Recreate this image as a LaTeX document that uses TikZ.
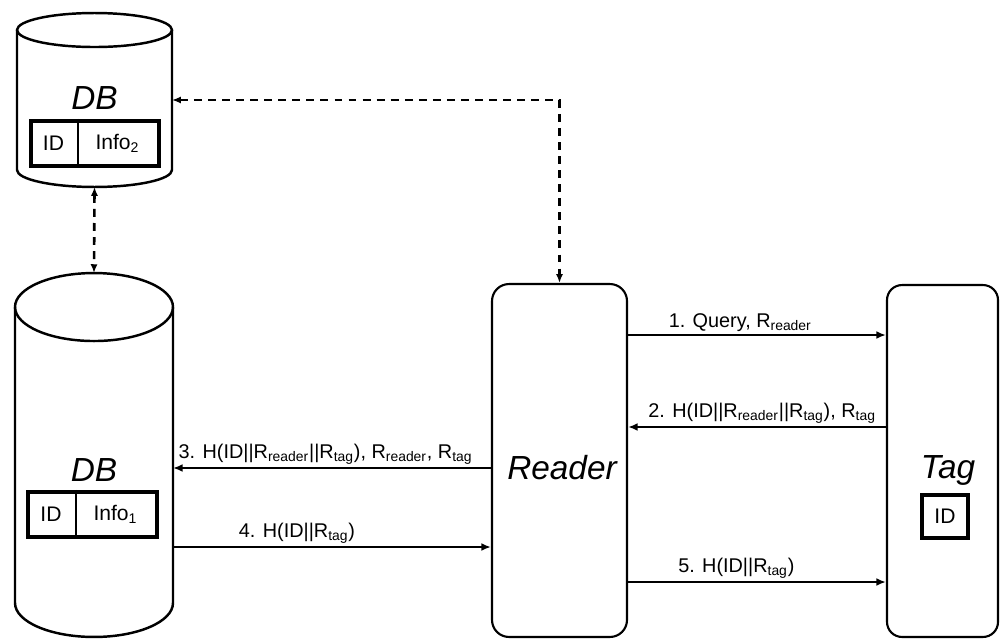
\documentclass[tikz,border=0pt]{standalone}
\usepackage{fontspec}
\setmainfont{Liberation Sans}
\usetikzlibrary{arrows.meta,positioning}

\tikzset{
  drum/.style={line width=1.4pt},
  unit/.style={draw, line width=1.2pt, rounded corners=0.34cm, inner sep=0pt},
  msg/.style={line width=1.3pt, -{Latex[length=5.5pt,width=4.5pt]}},
  link/.style={line width=1.5pt, dash pattern=on 4.5pt off 3.5pt,
               {Latex[length=5pt,width=4pt]}-{Latex[length=5pt,width=4pt]}},
  tbl/.style={draw, line width=2.3pt, inner sep=0pt},
  cell/.style={font=\fontsize{12}{14}\selectfont, inner sep=0pt},
  title/.style={font=\fontsize{19}{22}\selectfont\itshape, inner sep=0pt},
  lbl/.style={font=\fontsize{11.3}{13}\selectfont, above, inner sep=1.5pt},
  hold/.style={inner sep=0pt, outer sep=0pt},
}

% cylinder outline round a placeholder node: #1 node, #2 x radius, #3 y radius
\newcommand\dbdrum[3]{%
  \draw[drum] ([yshift=-#3]#1.north west) -- ([yshift=#3]#1.south west)
    arc[start angle=180, end angle=360, x radius=#2, y radius=#3]
    -- ([yshift=-#3]#1.north east);
  \draw[drum] ([yshift=-#3]#1.north) ellipse [x radius=#2, y radius=#3];}

\begin{document}
\begin{tikzpicture}[x=0.02cm,y=0.02cm]
\fill[white] (0,0) rectangle (1000,640);
\useasboundingbox (0,0) rectangle (1000,640);

% back-end databases
\node[hold, minimum width=3.1cm, minimum height=3.48cm] (db1) at (94.5,540) {};
\node[hold, minimum width=3.16cm, minimum height=7.28cm] (db2) at (94,185) {};
\dbdrum{db1}{1.55cm}{0.34cm}
\dbdrum{db2}{1.58cm}{0.68cm}

\node[title] (db1name) at (94.5,542) {DB};
\node[tbl, minimum width=2.56cm, minimum height=0.9cm] (db1tab) at (95,496.5) {};
\draw[line width=0.8pt] ([xshift=0.98cm]db1tab.north west) -- ([xshift=0.98cm]db1tab.south west);
\node[cell] (db1id) at ([xshift=0.49cm]db1tab.west) {ID};
\node[cell] (db1info) at ([xshift=1.77cm]db1tab.west) {Info\textsubscript{2}};

\node[title] (db2name) at (94,170) {DB};
\node[tbl, minimum width=2.58cm, minimum height=0.9cm] (db2tab) at (92.5,125.5) {};
\draw[line width=0.8pt] ([xshift=1.0cm]db2tab.north west) -- ([xshift=1.0cm]db2tab.south west);
\node[cell] (db2id) at ([xshift=0.5cm]db2tab.west) {ID};
\node[cell] (db2info) at ([xshift=1.79cm]db2tab.west) {Info\textsubscript{1}};

% reader and tag
\node[unit, minimum width=2.7cm, minimum height=7.06cm] (reader) at (559.5,179.5) {};
\node[title] (readername) at (562,172) {Reader};
\node[unit, rounded corners=0.3cm, minimum width=2.22cm, minimum height=7.04cm] (tag) at (942.5,179) {};
\node[title] (tagname) at (948,170) {Tag};
\node[tbl, cell, minimum width=0.92cm, minimum height=0.86cm] (tagid) at (945,123.5) {ID};

% message rows
\coordinate (m1) at (0,305);
\coordinate (m2) at (0,213);
\coordinate (m3) at (0,172);
\coordinate (m4) at (0,93);
\coordinate (m5) at (0,58);

\draw[msg] (reader.east|-m1) -- node[lbl, pos=0.435] (q1)
  {1. Query, R\textsubscript{reader}} (tag.west|-m1);
\draw[msg] (tag.west|-m2) -- node[lbl, pos=0.48] (q2)
  {2. H(ID||R\textsubscript{reader}||R\textsubscript{tag}), R\textsubscript{tag}} (reader.east|-m2);
\draw[msg] (reader.west|-m3) -- node[lbl, pos=0.52] (q3)
  {3. H(ID||R\textsubscript{reader}||R\textsubscript{tag}), R\textsubscript{reader}, R\textsubscript{tag}} (db2.east|-m3);
\draw[msg] (db2.east|-m4) -- node[lbl, pos=0.39] (q4)
  {4. H(ID||R\textsubscript{tag})} (reader.west|-m4);
\draw[msg] (reader.east|-m5) -- node[lbl, pos=0.42] (q5)
  {5. H(ID||R\textsubscript{tag})} (tag.west|-m5);

% links between the databases and the reader
\draw[link] (db1.east) -| (reader.north);
\draw[link] (db1.south) -- (db2.north);
\end{tikzpicture}
\end{document}
